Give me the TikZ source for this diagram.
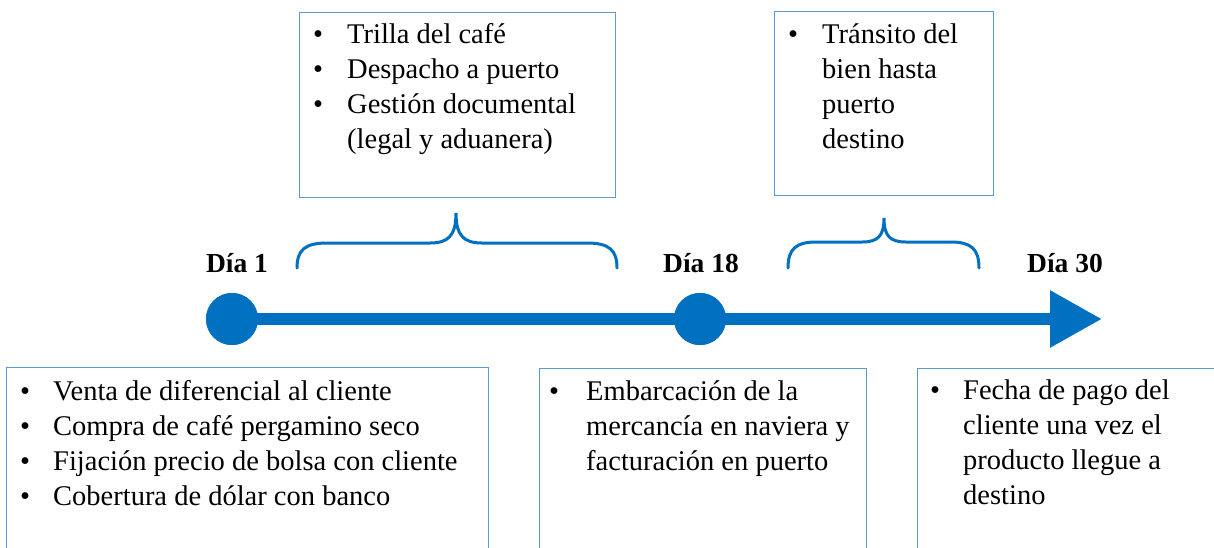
\documentclass[tikz,border=0pt]{standalone}
\usepackage{fontspec}
\setmainfont{Liberation Serif}
\usepackage{array}
\usetikzlibrary{arrows.meta}
\definecolor{tlblue}{HTML}{0070C0}
\definecolor{boxblue}{HTML}{5B9BD5}
\tikzset{
  infobox/.style={draw=boxblue, line width=1.3pt, anchor=north west, inner sep=0pt, fill=none},
  bodytext/.style={anchor=base west, inner sep=0pt, font=\fontsize{28.5}{35}\selectfont},
  daylabel/.style={anchor=base, inner sep=0pt, font=\fontsize{27.5}{32}\selectfont\bfseries},
  daydot/.style={circle, fill=tlblue, minimum size=52pt, inner sep=0pt},
  timeline/.style={draw=tlblue, line width=12pt},
  bracestyle/.style={draw=tlblue, line width=3pt, line cap=round}
}
\newcommand{\blt}{\textbullet}
\begin{document}
\begin{tikzpicture}[x=1pt,y=-1pt]
\useasboundingbox (0,0) rectangle (1214,547);
\clip (0,0) rectangle (1214,547);
\fill[white] (0,0) rectangle (1214,547);

% boxes
\node[infobox, minimum width=316pt, minimum height=185pt] (top1) at (299,12) {};
\node[infobox, minimum width=219pt, minimum height=184pt] (top2) at (774,11) {};
\node[infobox, minimum width=482pt, minimum height=200pt] (bot1) at (6,367) {};
\node[infobox, minimum width=327pt, minimum height=200pt] (bot2) at (539,368) {};
\node[infobox, minimum width=320pt, minimum height=200pt] (bot3) at (917,368) {};

% texts
\node[bodytext] (t1) at (313,43) {\begin{tabular}[t]{@{}p{34pt}@{}l@{}}
\blt & Trilla del café\\
\blt & Despacho a puerto\\
\blt & Gestión documental\\
 & (legal y aduanera)
\end{tabular}};
\node[bodytext] (t2) at (788,43) {\begin{tabular}[t]{@{}p{34pt}@{}l@{}}
\blt & Tránsito del\\
 & bien hasta\\
 & puerto\\
 & destino
\end{tabular}};
\node[bodytext] (t3) at (20,400) {\begin{tabular}[t]{@{}p{33pt}@{}l@{}}
\blt & Venta de diferencial al cliente\\
\blt & Compra de café pergamino seco\\
\blt & Fijación precio de bolsa con cliente\\
\blt & Cobertura de dólar con banco
\end{tabular}};
\node[bodytext] (t4) at (549,400) {\begin{tabular}[t]{@{}p{37pt}@{}l@{}}
\blt & Embarcación de la\\
 & mercancía en naviera y\\
 & facturación en puerto
\end{tabular}};
\node[bodytext] (t5) at (930,399) {\begin{tabular}[t]{@{}p{33pt}@{}l@{}}
\blt & Fecha de pago del\\
 & cliente una vez el\\
 & producto llegue a\\
 & destino
\end{tabular}};

% timeline
\node[daydot] (d1) at (232,319) {};
\node[daydot] (d18) at (700,319) {};
\coordinate (tip) at (1102,319);
\draw[timeline, -{Triangle[length=52pt,width=54pt]}] (d1.center) -- (tip);
\node[daydot] at (d1) {};
\node[daydot] at (d18) {};

% day labels
\node[daylabel] (l1) at (237,272) {Día 1};
\node[daylabel] (l18) at (701,272) {Día 18};
\node[daylabel] (l30) at (1065,272) {Día 30};

% braces
\draw[bracestyle] (297,268) .. controls (297,250) and (305,243) .. (327,243)
  -- (430,243) .. controls (448,243) and (456,236) .. (456,213)
  .. controls (456,236) and (464,243) .. (482,243)
  -- (587,243) .. controls (609,243) and (617,250) .. (617,268);
\draw[bracestyle] (788,268) .. controls (788,249) and (796,242) .. (816,242)
  -- (862,242) .. controls (878,242) and (884,236) .. (884,218)
  .. controls (884,236) and (890,242) .. (906,242)
  -- (951,242) .. controls (971,242) and (979,249) .. (979,268);
\end{tikzpicture}
\end{document}
